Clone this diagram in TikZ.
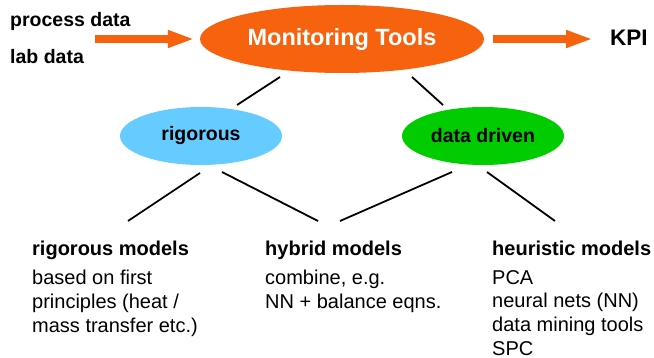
\documentclass[tikz,border=0pt]{standalone}
\usepackage{fontspec}
\setmainfont{Liberation Sans}
\usetikzlibrary{shapes.geometric,arrows.meta}
\definecolor{orng}{RGB}{246,98,14}
\definecolor{lblue}{RGB}{102,204,255}
\definecolor{grn}{RGB}{0,204,0}
\tikzset{
  bigell/.style={ellipse, fill=orng, inner sep=0pt, minimum width=284, minimum height=68, text=white, font=\fontsize{23.5}{27}\selectfont\bfseries},
  subell/.style={ellipse, inner sep=0pt, minimum width=162, minimum height=58, font=\fontsize{19.5}{23}\selectfont\bfseries},
  lbl/.style={anchor=base west, inner sep=0pt, font=\fontsize{19.5}{23}\selectfont\bfseries},
  body/.style={anchor=north west, inner sep=0pt, align=left, font=\fontsize{20}{23.7}\selectfont},
  fatarrow/.style={draw=orng, line width=8, -{Triangle[length=27,width=16]}},
  conn/.style={line width=1.8, black}
}
\begin{document}
\begin{tikzpicture}[x=1pt,y=-1pt]
\useasboundingbox (0,0) rectangle (654,358);
% top row
\node[bigell] (main) at (342,39) {Monitoring Tools};
\node[lbl] (pd) at (10,27) {process data};
\node[lbl] (lab) at (10,64) {lab data};
\node[lbl, font=\fontsize{22.5}{26}\selectfont\bfseries] (kpi) at (610,46) {KPI};
\coordinate (inA) at (95,39);
\coordinate (outA) at (593,39);
\draw[fatarrow, shorten >=5] (inA) -- (main.west);
\draw[fatarrow, shorten <=9] (main.east) -- (outA);
% second row
\node[subell, fill=lblue] (rig) at (201,136) {rigorous};
\node[subell, fill=grn] (dd) at (483,136) {data driven};
\coordinate (m1) at (280,77);
\coordinate (r1) at (237,105);
\coordinate (m2) at (412,77);
\coordinate (d1) at (443,105);
\draw[conn] (m1) -- (r1);
\draw[conn] (m2) -- (d1);
% lower lines
\coordinate (r2) at (200,173);
\coordinate (r3) at (222,172);
\coordinate (d2) at (452,172);
\coordinate (d3) at (487,172);
\coordinate (b1) at (128,221);
\coordinate (b2) at (318,221);
\coordinate (b3) at (340,221);
\coordinate (b4) at (555,221);
\draw[conn] (r2) -- (b1);
\draw[conn] (r3) -- (b2);
\draw[conn] (d2) -- (b3);
\draw[conn] (d3) -- (b4);
% bottom texts
\node[lbl, font=\fontsize{20}{24}\selectfont\bfseries] (h1) at (32,256) {rigorous models};
\node[lbl, font=\fontsize{20}{24}\selectfont\bfseries] (h2) at (265,256) {hybrid models};
\node[lbl, font=\fontsize{20}{24}\selectfont\bfseries] (h3) at (492,256) {heuristic models};
\node[body] (t1) at (32,270) {based on first\\principles (heat /\\mass transfer etc.)};
\node[body] (t2) at (265,270) {combine, e.g.\\NN + balance eqns.};
\node[body] (t3) at (492,270) {PCA\\neural nets (NN)\\data mining tools\\SPC};
\end{tikzpicture}
\end{document}
